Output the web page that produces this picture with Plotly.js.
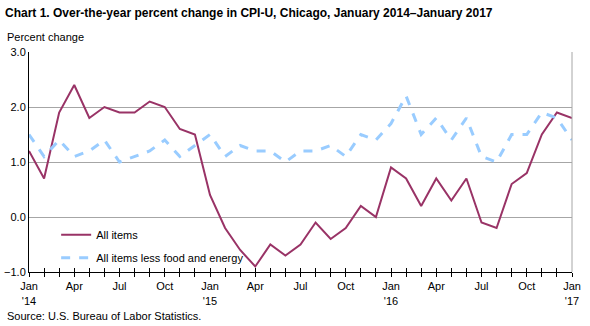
<!DOCTYPE html>
<html>
<head>
<meta charset="utf-8">
<script src="https://cdn.plot.ly/plotly-3.0.1.min.js"></script>
<style>html,body{margin:0;padding:0;background:#fff;}#chart{width:590px;height:326px;}</style>
</head>
<body>
<div id="chart"></div>
<script>
const months = ["Jan 2014","Feb 2014","Mar 2014","Apr 2014","May 2014","Jun 2014","Jul 2014","Aug 2014","Sep 2014","Oct 2014","Nov 2014","Dec 2014",
"Jan 2015","Feb 2015","Mar 2015","Apr 2015","May 2015","Jun 2015","Jul 2015","Aug 2015","Sep 2015","Oct 2015","Nov 2015","Dec 2015",
"Jan 2016","Feb 2016","Mar 2016","Apr 2016","May 2016","Jun 2016","Jul 2016","Aug 2016","Sep 2016","Oct 2016","Nov 2016","Dec 2016","Jan 2017"];
const allItems = [1.2,0.7,1.9,2.4,1.8,2.0,1.9,1.9,2.1,2.0,1.6,1.5,
0.4,-0.2,-0.6,-0.9,-0.5,-0.7,-0.5,-0.1,-0.4,-0.2,0.2,0.0,
0.9,0.7,0.2,0.7,0.3,0.7,-0.1,-0.2,0.6,0.8,1.5,1.9,1.8];
const coreItems = [1.5,1.1,1.4,1.1,1.2,1.4,1.0,1.1,1.2,1.4,1.1,1.3,
1.5,1.1,1.3,1.2,1.2,1.0,1.2,1.2,1.3,1.1,1.5,1.4,
1.7,2.2,1.5,1.8,1.4,1.8,1.1,1.0,1.5,1.5,1.9,1.8,1.4];
const tickLabels = ["Jan<br>'14","","","Apr","","","Jul","","","Oct","","",
"Jan<br>'15","","","Apr","","","Jul","","","Oct","","",
"Jan<br>'16","","","Apr","","","Jul","","","Oct","","",
"Jan<br>'17"];
const idx = months.map((m,i)=>i);
const F = "Arial, 'Liberation Sans', sans-serif";

const traces = [
  {x: idx, y: allItems, type:'scatter', mode:'lines', name:'All items', legendgroup:'a',
   line:{color:'#993366', width:2}, text: months, hoverinfo:'text+y'},
  {x: idx, y: coreItems, type:'scatter', mode:'lines', name:'All items less food and energy', legendgroup:'b',
   line:{color:'#99CCFF', width:3, dash:'dash'}, text: months, hoverinfo:'text+y'},
  {x: idx, y: allItems, xaxis:'x2', yaxis:'y', type:'scatter', mode:'lines', opacity:0,
   showlegend:false, hoverinfo:'skip', line:{width:0}}
];

const layout = {
  width:590, height:326,
  margin:{l:29.3, r:17.7, t:52, b:54},
  paper_bgcolor:'#fff', plot_bgcolor:'#fff',
  font:{family:F, size:11, color:'#000'},
  title:{text:'<b>Chart 1. Over-the-year percent change in CPI-U, Chicago, January 2014–January 2017</b>',
    font:{family:F, size:12, color:'#000'}, x:5/590, xanchor:'left', xref:'container',
    y:1-13/326, yanchor:'middle', yref:'container'},
  xaxis:{range:[0,36], tickmode:'array', tickvals:idx, ticktext:tickLabels,
    showgrid:false, zeroline:false, showline:true, linecolor:'#000', linewidth:1,
    ticks:'outside', ticklen:4, tickcolor:'#000', tickangle:0,
    tickfont:{family:F, size:11, color:'#000'}, fixedrange:true},
  xaxis2:{overlaying:'x', anchor:'y', side:'bottom', range:[0,36], tickmode:'array', tickvals:idx,
    showticklabels:false, showgrid:false, zeroline:false, showline:false,
    ticks:'inside', ticklen:4, tickcolor:'#000', fixedrange:true},
  yaxis:{range:[-1,3], dtick:1, tick0:-1, tickformat:'.1f', showgrid:true, gridcolor:'#A6A6A6', gridwidth:1,
    zeroline:false, showline:true, linecolor:'#000', linewidth:1, ticks:'', ticklen:0,
    tickfont:{family:F, size:11, color:'#000'}, fixedrange:true},
  showlegend:true,
  legend:{x:0.05, y:0.235, xanchor:'left', yanchor:'top', bgcolor:'rgba(0,0,0,0)',
    font:{family:F, size:11, color:'#000'}, traceorder:'grouped', tracegroupgap:4},
  shapes:[{type:'line', xref:'paper', yref:'paper', x0:1, x1:1, y0:0, y1:1, line:{color:'#A6A6A6', width:1}}],
  annotations:[
    {text:'Percent change', xref:'paper', yref:'paper', x:(5-29.3)/543, y:(272-37)/220, xanchor:'left', yanchor:'middle', showarrow:false, font:{family:F, size:11, color:'#000'}},
    {text:'Source: U.S. Bureau of Labor Statistics.', xref:'paper', yref:'paper', x:(5-29.3)/543, y:(272-316)/220, xanchor:'left', yanchor:'middle', showarrow:false, font:{family:F, size:11, color:'#000'}}
  ]
};
Plotly.newPlot('chart', traces, layout, {displayModeBar:false, staticPlot:true});
</script>
</body>
</html>
